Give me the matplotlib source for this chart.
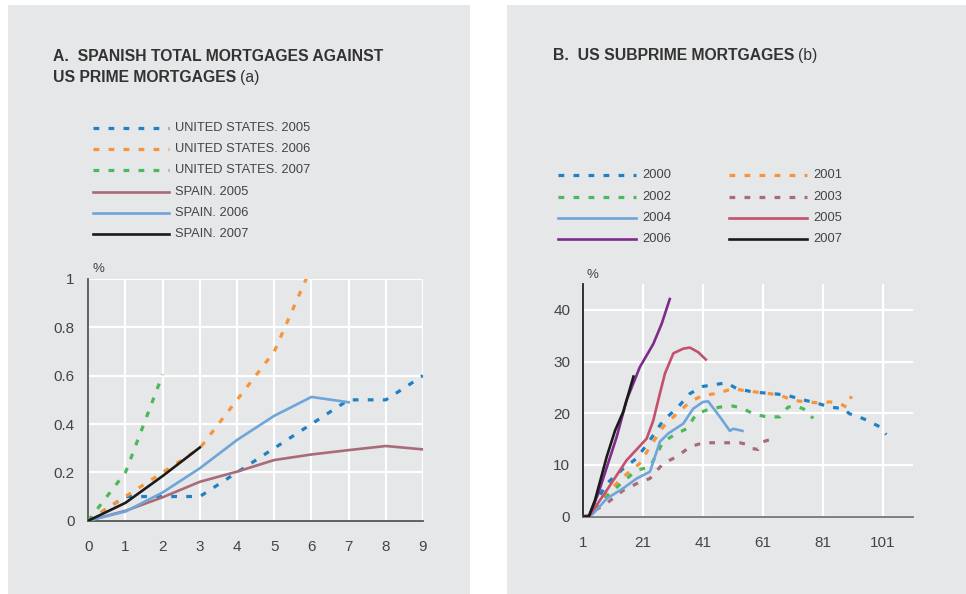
import matplotlib
matplotlib.use("Agg")
import matplotlib.pyplot as plt
from matplotlib.lines import Line2D
from matplotlib.patches import Rectangle

plt.rcParams['font.family'] = ['Liberation Sans', 'DejaVu Sans']

W, H = 966, 594

# ---------------- Data: panel A ----------------
years_a = [0, 1, 2, 3, 4, 5, 6, 7, 8, 9]
us_2005 = [0, 0.10, 0.10, 0.10, 0.20, 0.30, 0.40, 0.50, 0.50, 0.60]
us_2006 = [0, 0.10, 0.20, 0.30, 0.50, 0.70, 1.05]
us_2007 = [0, 0.20, 0.605]
es_2005 = [0, 0.041, 0.097, 0.161, 0.203, 0.251, 0.274, 0.292, 0.309, 0.295]
es_2006 = [0, 0.038, 0.117, 0.217, 0.334, 0.434, 0.512, 0.490]
es_2007 = [0, 0.074, 0.185, 0.303]

# ---------------- Data: panel B (months since origination) ----------------
x_2000 = [1, 3, 4.5, 9, 14.5, 19, 23.4, 27.8, 32.3, 36.7, 41.1, 44.5, 48.9, 52.2, 57.8,
          64.4, 68.9, 74.4, 78.8, 83.3, 87.7, 89.9, 94.3, 99.9, 102.1]
y_2000 = [0, 0.2, 1.9, 6.4, 9.3, 11.3, 14.8, 18.6, 20.9, 23.8, 25.2, 25.5, 25.9, 24.8, 24.1,
          23.8, 23.5, 22.6, 22.0, 21.2, 20.9, 19.9, 19.0, 17.4, 15.9]
x_2001 = [1, 3, 4.5, 9, 14.5, 20, 23.4, 27.8, 32.3, 36.7, 41.1, 45.6, 51.1, 55.5, 62.2,
          66.6, 71.1, 75.5, 79.9, 83.3, 86.6, 88.8, 90.5]
y_2001 = [0, 0.2, 1.6, 4.5, 7.7, 10.3, 13.5, 17.4, 19.9, 22.2, 23.5, 23.8, 24.8, 24.3, 23.9,
          23.5, 22.5, 22.2, 22.0, 22.2, 21.9, 21.2, 23.3]
x_2002 = [1, 3, 5.7, 10.1, 14.5, 19, 23.4, 27.8, 32.3, 35.6, 38.9, 42.2, 46.7, 51.1, 54.4,
          57.8, 62.2, 66.6, 69.4, 72.2, 75.5, 77.7]
y_2002 = [0, 0.2, 1.9, 4.5, 6.8, 9.0, 9.6, 14.5, 16.1, 17.0, 19.9, 20.6, 21.2, 21.4, 20.9,
          19.9, 19.3, 19.3, 21.2, 21.4, 20.6, 19.0]
x_2003 = [1, 3, 4.5, 9, 14.5, 19, 23.4, 27.8, 32.3, 36.7, 41.1, 46.7, 53.3, 55.5, 57.2,
          59.4, 61.1, 64.4, 65.5]
y_2003 = [0, 0.1, 1.0, 2.6, 5.1, 6.4, 7.4, 10.3, 11.6, 13.5, 14.3, 14.3, 14.3, 14.0, 13.2,
          13.0, 14.5, 15.1, 15.1]
x_2004 = [1, 3, 4.5, 9, 14.5, 19, 23.4, 26.7, 29.5, 34.5, 37.8, 41.1, 42.8, 46.7, 50,
          51.1, 54.2]
y_2004 = [0, 0, 0.6, 3.5, 5.5, 7.4, 8.7, 14.5, 16.1, 18.0, 20.9, 22.2, 22.3, 19.3, 16.6,
          17.0, 16.6]
x_2005 = [1, 3, 9, 15.6, 22.3, 24.5, 26.7, 28.4, 31.2, 34.5, 36.7, 39.5, 42]
y_2005 = [0, 0, 5.1, 10.9, 15.1, 18.6, 23.8, 27.7, 31.6, 32.5, 32.7, 31.8, 30.4]
x_2006 = [1, 3, 6.2, 12.3, 15.6, 20, 24.5, 27.3, 30]
y_2006 = [0, 0, 4.5, 15.4, 22.5, 28.9, 33.4, 37.3, 42.1]
x_2007 = [1, 3, 5.1, 9, 11.8, 14.5, 17.9]
y_2007 = [0, 0, 3.2, 11.6, 16.7, 20.3, 27.1]

xticks_a = [0, 1, 2, 3, 4, 5, 6, 7, 8, 9]
yticks_a = [0, 0.2, 0.4, 0.6, 0.8, 1]
yticklabels_a = ['0', '0.2', '0.4', '0.6', '0.8', '1']
xticks_b = [1, 21, 41, 61, 81, 101]
yticks_b = [0, 10, 20, 30, 40]

labels_a = ['UNITED STATES. 2005', 'UNITED STATES. 2006', 'UNITED STATES. 2007',
            'SPAIN. 2005', 'SPAIN. 2006', 'SPAIN. 2007']
labels_b = ['2000', '2001', '2002', '2003', '2004', '2005', '2006', '2007']

# ---------------- Styles ----------------
BLUE = '#1f80c3'
ORANGE = '#f7943a'
GREEN = '#4bb85a'
MAUVE = '#a86b78'
LBLUE = '#6fa5d9'
RED = '#c4506c'
PURPLE = '#7e2b8c'
BLACK = '#1a1a1a'
PANEL = '#e6e7e9'
TXT = '#333333'
TICK = '#444444'

DOT_LW = 2.3
DASH = (0, (1.8, 2.9))
SOLID_LW = 1.9

fig = plt.figure(figsize=(W / 100, H / 100), dpi=100)
fig.patch.set_facecolor('white')


def fx(px):
    return px / W


def fy(py):
    return 1 - py / H


# panels
fig.add_artist(Rectangle((fx(8), fy(594)), fx(470) - fx(8), fy(5) - fy(594),
                         transform=fig.transFigure, facecolor=PANEL, edgecolor='none', zorder=0))
fig.add_artist(Rectangle((fx(507), fy(594)), fx(966) - fx(507), fy(5) - fy(594),
                         transform=fig.transFigure, facecolor=PANEL, edgecolor='none', zorder=0))


def make_axes(x0, x1, y0, y1):
    ax = fig.add_axes([fx(x0), fy(y1), fx(x1) - fx(x0), fy(y0) - fy(y1)])
    ax.set_facecolor('none')
    for s in ['top', 'right']:
        ax.spines[s].set_visible(False)
    ax.grid(True, color='white', linewidth=1.6, zorder=0)
    ax.set_axisbelow(True)
    ax.tick_params(length=0, labelsize=11, labelcolor=TICK)
    return ax


# ---------------- Panel A ----------------
axa = make_axes(88.3, 423, 279, 520.7)
axa.plot(years_a[:len(us_2005)], us_2005, color=BLUE, lw=DOT_LW, linestyle=DASH, zorder=3)
axa.plot(years_a[:len(us_2006)], us_2006, color=ORANGE, lw=DOT_LW, linestyle=DASH, zorder=3)
axa.plot(years_a[:len(us_2007)], us_2007, color=GREEN, lw=DOT_LW, linestyle=DASH, zorder=3)
axa.plot(years_a[:len(es_2005)], es_2005, color=MAUVE, lw=SOLID_LW, zorder=3)
axa.plot(years_a[:len(es_2006)], es_2006, color=LBLUE, lw=SOLID_LW, zorder=3)
axa.plot(years_a[:len(es_2007)], es_2007, color=BLACK, lw=SOLID_LW, zorder=4)
axa.set_xlim(0, 9)
axa.set_ylim(0, 1)
axa.set_xticks(xticks_a)
axa.set_yticks(yticks_a)
axa.set_yticklabels(yticklabels_a)
axa.tick_params(axis='x', pad=14)
axa.tick_params(axis='y', pad=10)
for s in ['left', 'bottom']:
    axa.spines[s].set_color('#555555')
    axa.spines[s].set_linewidth(1.3)
fig.text(fx(92.5), fy(272.5), '%', fontsize=9.5, color=TICK)

# Title A
fig.text(fx(53), fy(61), 'A.  SPANISH TOTAL MORTGAGES AGAINST', fontsize=11.3,
         fontweight='bold', color=TXT)
t2 = fig.text(fx(53), fy(82), 'US PRIME MORTGAGES', fontsize=11.3, fontweight='bold', color=TXT)
fig.canvas.draw()
bb = t2.get_window_extent()
fig.text(bb.x1 / W + fx(4), fy(82), '(a)', fontsize=11.3, color=TXT)

# Legend A
styles_a = [(BLUE, DASH, DOT_LW), (ORANGE, DASH, DOT_LW), (GREEN, DASH, DOT_LW),
            (MAUVE, '-', SOLID_LW), (LBLUE, '-', SOLID_LW), (BLACK, '-', SOLID_LW)]
rows_a = [128, 149, 170, 191.5, 213, 234]
for (c, ls, lw), lab, ry in zip(styles_a, labels_a, rows_a):
    fig.add_artist(Line2D([fx(92.5), fx(169)], [fy(ry), fy(ry)], color=c, linestyle=ls,
                          lw=lw, transform=fig.transFigure))
    fig.text(fx(175), fy(ry), lab, fontsize=9.3, color=TICK, va='center')

# ---------------- Panel B ----------------
axb = make_axes(582.7, 913, 284, 516.7)
series_b = [(x_2000, y_2000, BLUE, DASH, DOT_LW), (x_2001, y_2001, ORANGE, DASH, DOT_LW),
            (x_2002, y_2002, GREEN, DASH, DOT_LW), (x_2003, y_2003, MAUVE, DASH, DOT_LW),
            (x_2004, y_2004, LBLUE, '-', SOLID_LW), (x_2005, y_2005, RED, '-', SOLID_LW),
            (x_2006, y_2006, PURPLE, '-', SOLID_LW), (x_2007, y_2007, BLACK, '-', SOLID_LW)]
for xs, ys, c, ls, lw in series_b:
    axb.plot(xs, ys, color=c, linestyle=ls, lw=lw, zorder=3)
axb.set_xlim(1, 111)
axb.set_ylim(0, 45)
axb.set_xticks(xticks_b)
axb.set_yticks(yticks_b)
axb.tick_params(axis='x', pad=14)
axb.tick_params(axis='y', pad=9)
axb.spines['left'].set_color('#222222')
axb.spines['left'].set_linewidth(1.3)
axb.spines['bottom'].set_color('#777777')
axb.spines['bottom'].set_linewidth(1.3)
fig.text(fx(586.5), fy(277.5), '%', fontsize=9.5, color=TICK)

# Title B
tb = fig.text(fx(553), fy(60), 'B.  US SUBPRIME MORTGAGES', fontsize=11.3, fontweight='bold',
              color=TXT)
fig.canvas.draw()
bb = tb.get_window_extent()
fig.text(bb.x1 / W + fx(4), fy(60), '(b)', fontsize=11.3, color=TXT)

# Legend B
rows_b = [175.3, 196.7, 218, 239]
for i, ((xs, ys, c, ls, lw), lab) in enumerate(zip(series_b, labels_b)):
    col = i % 2
    row = i // 2
    x0, x1, xt = (558, 636, 642) if col == 0 else (729, 807, 813)
    ry = rows_b[row]
    fig.add_artist(Line2D([fx(x0), fx(x1)], [fy(ry), fy(ry)], color=c, linestyle=ls,
                          lw=lw, transform=fig.transFigure))
    fig.text(fx(xt), fy(ry), lab, fontsize=9.3, color=TICK, va='center')

fig.savefig('out.png', dpi=100, facecolor='white')
